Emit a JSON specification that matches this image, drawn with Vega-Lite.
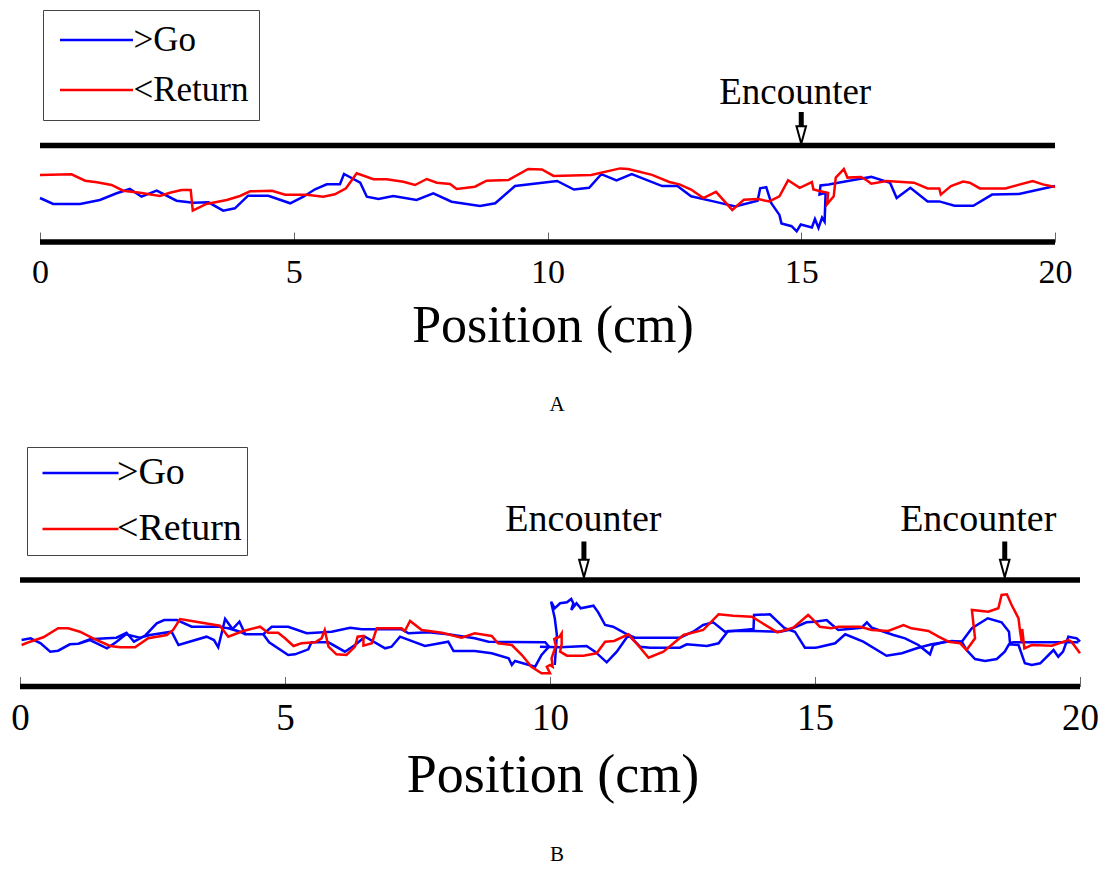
{
  "$schema": "https://vega.github.io/schema/vega-lite/v6.json",
  "width": 1105,
  "height": 875,
  "autosize": {"type": "none"},
  "padding": 0,
  "background": "white",
  "config": {"view": {"stroke": null}, "font": "Liberation Serif"},
  "datasets": {
    "A": [
      {"g":"Ab","s":">Go","i":0,"x":0,"y":44},{"g":"Ab","s":">Go","i":1,"x":0.26,"y":38},{"g":"Ab","s":">Go","i":2,"x":0.79,"y":38},{"g":"Ab","s":">Go","i":3,"x":1.18,"y":42},{"g":"Ab","s":">Go","i":4,"x":1.51,"y":48.7},{"g":"Ab","s":">Go","i":5,"x":1.77,"y":53},{"g":"Ab","s":">Go","i":6,"x":2.0,"y":45.3},{"g":"Ab","s":">Go","i":7,"x":2.3,"y":51.3},{"g":"Ab","s":">Go","i":8,"x":2.69,"y":41.3},{"g":"Ab","s":">Go","i":9,"x":3.02,"y":39.3},{"g":"Ab","s":">Go","i":10,"x":3.32,"y":39.7},{"g":"Ab","s":">Go","i":11,"x":3.61,"y":31.3},{"g":"Ab","s":">Go","i":12,"x":3.84,"y":33.7},{"g":"Ab","s":">Go","i":13,"x":4.1,"y":46.3},{"g":"Ab","s":">Go","i":14,"x":4.5,"y":46.3},{"g":"Ab","s":">Go","i":15,"x":4.93,"y":38.7},{"g":"Ab","s":">Go","i":16,"x":5.19,"y":45.3},{"g":"Ab","s":">Go","i":17,"x":5.42,"y":52.7},{"g":"Ab","s":">Go","i":18,"x":5.65,"y":57.7},{"g":"Ab","s":">Go","i":19,"x":5.91,"y":57.7},{"g":"Ab","s":">Go","i":20,"x":5.99,"y":68},{"g":"Ab","s":">Go","i":21,"x":6.31,"y":59.3},{"g":"Ab","s":">Go","i":22,"x":6.44,"y":45.3},{"g":"Ab","s":">Go","i":23,"x":6.67,"y":43},{"g":"Ab","s":">Go","i":24,"x":6.96,"y":46},{"g":"Ab","s":">Go","i":25,"x":7.42,"y":42},{"g":"Ab","s":">Go","i":26,"x":7.75,"y":48.7},{"g":"Ab","s":">Go","i":27,"x":8.11,"y":40.3},{"g":"Ab","s":">Go","i":28,"x":8.67,"y":36},{"g":"Ab","s":">Go","i":29,"x":8.97,"y":38.7},{"g":"Ab","s":">Go","i":30,"x":9.36,"y":56},{"g":"Ab","s":">Go","i":31,"x":10.19,"y":61},{"g":"Ab","s":">Go","i":32,"x":10.52,"y":52.5},{"g":"Ab","s":">Go","i":33,"x":10.82,"y":54.2},{"g":"Ab","s":">Go","i":34,"x":11.06,"y":67.8},{"g":"Ab","s":">Go","i":35,"x":11.36,"y":61.7},{"g":"Ab","s":">Go","i":36,"x":11.66,"y":67.8},{"g":"Ab","s":">Go","i":37,"x":12.26,"y":55.9},{"g":"Ab","s":">Go","i":38,"x":12.56,"y":55.9},{"g":"Ab","s":">Go","i":39,"x":12.83,"y":45.7},{"g":"Ab","s":">Go","i":40,"x":13.27,"y":40.6},{"g":"Ab","s":">Go","i":41,"x":13.7,"y":35.5},{"g":"Ab","s":">Go","i":42,"x":14.14,"y":41.3},{"g":"Ab","s":">Go","i":43,"x":14.19,"y":53.6},{"g":"Ab","s":">Go","i":44,"x":14.31,"y":54.9},{"g":"Ab","s":">Go","i":45,"x":14.41,"y":38.9},{"g":"Ab","s":">Go","i":46,"x":14.57,"y":27.1},{"g":"Ab","s":">Go","i":47,"x":14.61,"y":18.6},{"g":"Ab","s":">Go","i":48,"x":14.81,"y":15.8},{"g":"Ab","s":">Go","i":49,"x":14.91,"y":10.7},{"g":"Ab","s":">Go","i":50,"x":14.99,"y":17.5},{"g":"Ab","s":">Go","i":51,"x":15.21,"y":14.5},{"g":"Ab","s":">Go","i":52,"x":15.27,"y":23},{"g":"Ab","s":">Go","i":53,"x":15.34,"y":14.1},{"g":"Ab","s":">Go","i":54,"x":15.41,"y":24.3},{"g":"Ab","s":">Go","i":55,"x":15.46,"y":20.3},{"g":"Ab","s":">Go","i":56,"x":15.48,"y":49.1},{"g":"Ab","s":">Go","i":57,"x":15.36,"y":47.4},{"g":"Ab","s":">Go","i":58,"x":15.38,"y":56.6},{"g":"Ab","s":">Go","i":59,"x":15.54,"y":57.6},{"g":"Ab","s":">Go","i":60,"x":16.11,"y":62.7},{"g":"Ab","s":">Go","i":61,"x":16.38,"y":65.1},{"g":"Ab","s":">Go","i":62,"x":16.75,"y":59.3},{"g":"Ab","s":">Go","i":63,"x":16.88,"y":44},{"g":"Ab","s":">Go","i":64,"x":17.15,"y":54.2},{"g":"Ab","s":">Go","i":65,"x":17.49,"y":40.6},{"g":"Ab","s":">Go","i":66,"x":17.72,"y":40.6},{"g":"Ab","s":">Go","i":67,"x":18.02,"y":36.2},{"g":"Ab","s":">Go","i":68,"x":18.39,"y":36.2},{"g":"Ab","s":">Go","i":69,"x":18.76,"y":47.4},{"g":"Ab","s":">Go","i":70,"x":19.29,"y":48.1},{"g":"Ab","s":">Go","i":71,"x":20,"y":56},
      {"g":"Ar","s":"<Return","i":0,"x":0,"y":67},{"g":"Ar","s":"<Return","i":1,"x":0.62,"y":67.7},{"g":"Ar","s":"<Return","i":2,"x":0.89,"y":61.3},{"g":"Ar","s":"<Return","i":3,"x":1.12,"y":59.7},{"g":"Ar","s":"<Return","i":4,"x":1.41,"y":57},{"g":"Ar","s":"<Return","i":5,"x":1.64,"y":51.3},{"g":"Ar","s":"<Return","i":6,"x":1.97,"y":49.3},{"g":"Ar","s":"<Return","i":7,"x":2.36,"y":46},{"g":"Ar","s":"<Return","i":8,"x":2.56,"y":49.3},{"g":"Ar","s":"<Return","i":9,"x":2.79,"y":52},{"g":"Ar","s":"<Return","i":10,"x":2.97,"y":52},{"g":"Ar","s":"<Return","i":11,"x":3.01,"y":31.3},{"g":"Ar","s":"<Return","i":12,"x":3.28,"y":38},{"g":"Ar","s":"<Return","i":13,"x":3.68,"y":42},{"g":"Ar","s":"<Return","i":14,"x":3.94,"y":46},{"g":"Ar","s":"<Return","i":15,"x":4.14,"y":50.7},{"g":"Ar","s":"<Return","i":16,"x":4.57,"y":51.3},{"g":"Ar","s":"<Return","i":17,"x":4.83,"y":47.3},{"g":"Ar","s":"<Return","i":18,"x":5.26,"y":47.3},{"g":"Ar","s":"<Return","i":19,"x":5.58,"y":45.3},{"g":"Ar","s":"<Return","i":20,"x":5.81,"y":47.7},{"g":"Ar","s":"<Return","i":21,"x":6.03,"y":53.7},{"g":"Ar","s":"<Return","i":22,"x":6.24,"y":68.7},{"g":"Ar","s":"<Return","i":23,"x":6.57,"y":62.7},{"g":"Ar","s":"<Return","i":24,"x":6.83,"y":62.7},{"g":"Ar","s":"<Return","i":25,"x":7.16,"y":60.3},{"g":"Ar","s":"<Return","i":26,"x":7.39,"y":57},{"g":"Ar","s":"<Return","i":27,"x":7.62,"y":63},{"g":"Ar","s":"<Return","i":28,"x":7.82,"y":59.3},{"g":"Ar","s":"<Return","i":29,"x":8.08,"y":58},{"g":"Ar","s":"<Return","i":30,"x":8.21,"y":53},{"g":"Ar","s":"<Return","i":31,"x":8.57,"y":55.3},{"g":"Ar","s":"<Return","i":32,"x":8.8,"y":61.3},{"g":"Ar","s":"<Return","i":33,"x":9.23,"y":62},{"g":"Ar","s":"<Return","i":34,"x":9.62,"y":73},{"g":"Ar","s":"<Return","i":35,"x":9.89,"y":72.5},{"g":"Ar","s":"<Return","i":36,"x":10.12,"y":66.1},{"g":"Ar","s":"<Return","i":37,"x":10.86,"y":67.1},{"g":"Ar","s":"<Return","i":38,"x":11.43,"y":73.6},{"g":"Ar","s":"<Return","i":39,"x":11.59,"y":72.9},{"g":"Ar","s":"<Return","i":40,"x":12.06,"y":67.1},{"g":"Ar","s":"<Return","i":41,"x":12.4,"y":60},{"g":"Ar","s":"<Return","i":42,"x":12.6,"y":57.6},{"g":"Ar","s":"<Return","i":43,"x":12.83,"y":52.5},{"g":"Ar","s":"<Return","i":44,"x":13.07,"y":44},{"g":"Ar","s":"<Return","i":45,"x":13.32,"y":50.2},{"g":"Ar","s":"<Return","i":46,"x":13.64,"y":32.1},{"g":"Ar","s":"<Return","i":47,"x":13.87,"y":42.3},{"g":"Ar","s":"<Return","i":48,"x":14.14,"y":43},{"g":"Ar","s":"<Return","i":49,"x":14.37,"y":40.6},{"g":"Ar","s":"<Return","i":50,"x":14.57,"y":45.7},{"g":"Ar","s":"<Return","i":51,"x":14.74,"y":61.7},{"g":"Ar","s":"<Return","i":52,"x":14.97,"y":54.2},{"g":"Ar","s":"<Return","i":53,"x":15.21,"y":60},{"g":"Ar","s":"<Return","i":54,"x":15.24,"y":52.5},{"g":"Ar","s":"<Return","i":55,"x":15.38,"y":50.8},{"g":"Ar","s":"<Return","i":56,"x":15.53,"y":49.1},{"g":"Ar","s":"<Return","i":57,"x":15.51,"y":37.9},{"g":"Ar","s":"<Return","i":58,"x":15.64,"y":45.7},{"g":"Ar","s":"<Return","i":59,"x":15.68,"y":64.4},{"g":"Ar","s":"<Return","i":60,"x":15.84,"y":72.9},{"g":"Ar","s":"<Return","i":61,"x":15.91,"y":64.4},{"g":"Ar","s":"<Return","i":62,"x":16.18,"y":65.1},{"g":"Ar","s":"<Return","i":63,"x":16.31,"y":61},{"g":"Ar","s":"<Return","i":64,"x":16.38,"y":58.3},{"g":"Ar","s":"<Return","i":65,"x":16.68,"y":61},{"g":"Ar","s":"<Return","i":66,"x":17.22,"y":59.3},{"g":"Ar","s":"<Return","i":67,"x":17.49,"y":53.6},{"g":"Ar","s":"<Return","i":68,"x":17.72,"y":53.6},{"g":"Ar","s":"<Return","i":69,"x":17.75,"y":47.4},{"g":"Ar","s":"<Return","i":70,"x":17.95,"y":55.9},{"g":"Ar","s":"<Return","i":71,"x":18.19,"y":60.4},{"g":"Ar","s":"<Return","i":72,"x":18.32,"y":59.3},{"g":"Ar","s":"<Return","i":73,"x":18.52,"y":53.6},{"g":"Ar","s":"<Return","i":74,"x":19.02,"y":53.6},{"g":"Ar","s":"<Return","i":75,"x":19.56,"y":61},{"g":"Ar","s":"<Return","i":76,"x":19.76,"y":57.6},{"g":"Ar","s":"<Return","i":77,"x":20,"y":55}
    ],
    "B": [
      {"g":"Bb1","s":">Go","i":0,"x":0.03,"y":46.5},{"g":"Bb1","s":">Go","i":1,"x":0.2,"y":48.2},{"g":"Bb1","s":">Go","i":2,"x":0.39,"y":43.2},{"g":"Bb1","s":">Go","i":3,"x":0.57,"y":34.8},{"g":"Bb1","s":">Go","i":4,"x":0.72,"y":35.8},{"g":"Bb1","s":">Go","i":5,"x":0.94,"y":42.2},{"g":"Bb1","s":">Go","i":6,"x":1.1,"y":42.8},{"g":"Bb1","s":">Go","i":7,"x":1.32,"y":47.2},{"g":"Bb1","s":">Go","i":8,"x":1.64,"y":48.2},{"g":"Bb1","s":">Go","i":9,"x":1.82,"y":48.8},{"g":"Bb1","s":">Go","i":10,"x":2.01,"y":53.8},{"g":"Bb1","s":">Go","i":11,"x":2.15,"y":44.8},{"g":"Bb1","s":">Go","i":12,"x":2.36,"y":50.8},{"g":"Bb1","s":">Go","i":13,"x":2.58,"y":63.2},{"g":"Bb1","s":">Go","i":14,"x":2.72,"y":66.5},{"g":"Bb1","s":">Go","i":15,"x":2.96,"y":66.5},{"g":"Bb1","s":">Go","i":16,"x":3.24,"y":59.8},{"g":"Bb1","s":">Go","i":17,"x":3.77,"y":59.8},{"g":"Bb1","s":">Go","i":18,"x":3.93,"y":58.2},{"g":"Bb1","s":">Go","i":19,"x":4.15,"y":54.8},{"g":"Bb1","s":">Go","i":20,"x":4.25,"y":52.2},{"g":"Bb1","s":">Go","i":21,"x":4.59,"y":52.2},{"g":"Bb1","s":">Go","i":22,"x":4.75,"y":59.8},{"g":"Bb1","s":">Go","i":23,"x":5.06,"y":59.8},{"g":"Bb1","s":">Go","i":24,"x":5.41,"y":53.2},{"g":"Bb1","s":">Go","i":25,"x":5.88,"y":54.8},{"g":"Bb1","s":">Go","i":26,"x":6.23,"y":58.8},{"g":"Bb1","s":">Go","i":27,"x":6.45,"y":57.2},{"g":"Bb1","s":">Go","i":28,"x":7.2,"y":57.2},{"g":"Bb1","s":">Go","i":29,"x":7.33,"y":53.2},{"g":"Bb1","s":">Go","i":30,"x":7.7,"y":54.2},{"g":"Bb1","s":">Go","i":31,"x":8.08,"y":52.2},{"g":"Bb1","s":">Go","i":32,"x":8.58,"y":48.2},{"g":"Bb1","s":">Go","i":33,"x":8.84,"y":44.8},{"g":"Bb1","s":">Go","i":34,"x":9.91,"y":44.2},{"g":"Bb1","s":">Go","i":35,"x":9.98,"y":39.8},{"g":"Bb1","s":">Go","i":36,"x":9.84,"y":31.5},{"g":"Bb1","s":">Go","i":37,"x":9.72,"y":19.8},{"g":"Bb1","s":">Go","i":38,"x":9.34,"y":25.5},{"g":"Bb1","s":">Go","i":39,"x":9.28,"y":21.5},{"g":"Bb1","s":">Go","i":40,"x":9.22,"y":28.2},{"g":"Bb1","s":">Go","i":41,"x":8.9,"y":33.2},{"g":"Bb1","s":">Go","i":42,"x":8.58,"y":35.5},{"g":"Bb1","s":">Go","i":43,"x":8.18,"y":35.5},{"g":"Bb1","s":">Go","i":44,"x":8.08,"y":44.8},{"g":"Bb1","s":">Go","i":45,"x":7.64,"y":40.5},{"g":"Bb1","s":">Go","i":46,"x":7.17,"y":49.8},{"g":"Bb1","s":">Go","i":47,"x":7.01,"y":39.8},{"g":"Bb1","s":">Go","i":48,"x":6.89,"y":38.2},{"g":"Bb1","s":">Go","i":49,"x":6.51,"y":49.8},{"g":"Bb1","s":">Go","i":50,"x":6.32,"y":41.5},{"g":"Bb1","s":">Go","i":51,"x":6.13,"y":34.8},{"g":"Bb1","s":">Go","i":52,"x":5.82,"y":44.2},{"g":"Bb1","s":">Go","i":53,"x":5.5,"y":44.2},{"g":"Bb1","s":">Go","i":54,"x":5.44,"y":37.2},{"g":"Bb1","s":">Go","i":55,"x":5.19,"y":32.2},{"g":"Bb1","s":">Go","i":56,"x":5.06,"y":31.5},{"g":"Bb1","s":">Go","i":57,"x":4.7,"y":44.2},{"g":"Bb1","s":">Go","i":58,"x":4.59,"y":52.2},{"g":"Bb1","s":">Go","i":59,"x":4.25,"y":52.2},{"g":"Bb1","s":">Go","i":60,"x":4.14,"y":64.8},{"g":"Bb1","s":">Go","i":61,"x":4.01,"y":57.5},{"g":"Bb1","s":">Go","i":62,"x":3.87,"y":67.5},{"g":"Bb1","s":">Go","i":63,"x":3.74,"y":39.2},{"g":"Bb1","s":">Go","i":64,"x":3.66,"y":46.5},{"g":"Bb1","s":">Go","i":65,"x":3.52,"y":49.8},{"g":"Bb1","s":">Go","i":66,"x":2.99,"y":41.5},{"g":"Bb1","s":">Go","i":67,"x":2.86,"y":54.8},{"g":"Bb1","s":">Go","i":68,"x":2.45,"y":51.5},{"g":"Bb1","s":">Go","i":69,"x":2.26,"y":48.8},{"g":"Bb1","s":">Go","i":70,"x":2.0,"y":52.2},{"g":"Bb1","s":">Go","i":71,"x":1.81,"y":44.2},{"g":"Bb1","s":">Go","i":72,"x":1.64,"y":38.2},{"g":"Bb1","s":">Go","i":73,"x":1.45,"y":43.2},{"g":"Bb1","s":">Go","i":74,"x":1.32,"y":46.5},{"g":"Bb1","s":">Go","i":75,"x":1.1,"y":42.8},
      {"g":"Bb2","s":">Go","i":0,"x":9.81,"y":39.8},{"g":"Bb2","s":">Go","i":1,"x":10.19,"y":39.2},{"g":"Bb2","s":">Go","i":2,"x":10.69,"y":40.5},{"g":"Bb2","s":">Go","i":3,"x":10.85,"y":34.8},{"g":"Bb2","s":">Go","i":4,"x":11.07,"y":24.2},{"g":"Bb2","s":">Go","i":5,"x":11.26,"y":34.8},{"g":"Bb2","s":">Go","i":6,"x":11.48,"y":51.5},{"g":"Bb2","s":">Go","i":7,"x":11.7,"y":39.8},{"g":"Bb2","s":">Go","i":8,"x":11.89,"y":38.8},{"g":"Bb2","s":">Go","i":9,"x":12.45,"y":38.8},{"g":"Bb2","s":">Go","i":10,"x":12.58,"y":42.2},{"g":"Bb2","s":">Go","i":11,"x":12.96,"y":40.5},{"g":"Bb2","s":">Go","i":12,"x":13.18,"y":43.2},{"g":"Bb2","s":">Go","i":13,"x":13.36,"y":55.5},{"g":"Bb2","s":">Go","i":14,"x":13.84,"y":55.5},{"g":"Bb2","s":">Go","i":15,"x":14.34,"y":54.8},{"g":"Bb2","s":">Go","i":16,"x":14.5,"y":56.5},{"g":"Bb2","s":">Go","i":17,"x":14.84,"y":64.2},{"g":"Bb2","s":">Go","i":18,"x":15.0,"y":64.8},{"g":"Bb2","s":">Go","i":19,"x":15.22,"y":66.5},{"g":"Bb2","s":">Go","i":20,"x":15.31,"y":62.2},{"g":"Bb2","s":">Go","i":21,"x":15.44,"y":56.5},{"g":"Bb2","s":">Go","i":22,"x":15.88,"y":58.8},{"g":"Bb2","s":">Go","i":23,"x":15.98,"y":64.2},{"g":"Bb2","s":">Go","i":24,"x":16.07,"y":58.8},{"g":"Bb2","s":">Go","i":25,"x":16.48,"y":51.5},{"g":"Bb2","s":">Go","i":26,"x":16.7,"y":48.2},{"g":"Bb2","s":">Go","i":27,"x":16.95,"y":41.5},{"g":"Bb2","s":">Go","i":28,"x":17.17,"y":32.2},{"g":"Bb2","s":">Go","i":29,"x":17.23,"y":41.5},{"g":"Bb2","s":">Go","i":30,"x":17.45,"y":44.8},{"g":"Bb2","s":">Go","i":31,"x":17.77,"y":44.8},{"g":"Bb2","s":">Go","i":32,"x":17.96,"y":58.2},{"g":"Bb2","s":">Go","i":33,"x":18.26,"y":68.2},{"g":"Bb2","s":">Go","i":34,"x":18.52,"y":64.2},{"g":"Bb2","s":">Go","i":35,"x":18.66,"y":54.8},{"g":"Bb2","s":">Go","i":36,"x":18.68,"y":43.2},{"g":"Bb2","s":">Go","i":37,"x":18.74,"y":44.2},{"g":"Bb2","s":">Go","i":38,"x":19.97,"y":44.2},
      {"g":"Bb3","s":">Go","i":0,"x":10.09,"y":21.5},{"g":"Bb3","s":">Go","i":1,"x":10.13,"y":51.5},{"g":"Bb3","s":">Go","i":2,"x":10.09,"y":68.2},{"g":"Bb3","s":">Go","i":3,"x":10.02,"y":84.8},{"g":"Bb3","s":">Go","i":4,"x":10.09,"y":78.2},{"g":"Bb3","s":">Go","i":5,"x":10.19,"y":83.2},{"g":"Bb3","s":">Go","i":6,"x":10.32,"y":84.2},{"g":"Bb3","s":">Go","i":7,"x":10.4,"y":87.5},{"g":"Bb3","s":">Go","i":8,"x":10.44,"y":83.2},{"g":"Bb3","s":">Go","i":9,"x":10.4,"y":76.5},{"g":"Bb3","s":">Go","i":10,"x":10.5,"y":83.2},{"g":"Bb3","s":">Go","i":11,"x":10.58,"y":78.2},{"g":"Bb3","s":">Go","i":12,"x":10.82,"y":80.8},{"g":"Bb3","s":">Go","i":13,"x":10.91,"y":74.2},{"g":"Bb3","s":">Go","i":14,"x":11.04,"y":61.5},{"g":"Bb3","s":">Go","i":15,"x":11.19,"y":59.8},{"g":"Bb3","s":">Go","i":16,"x":11.42,"y":53.2},{"g":"Bb3","s":">Go","i":17,"x":11.6,"y":48.8},{"g":"Bb3","s":">Go","i":18,"x":12.45,"y":48.8},{"g":"Bb3","s":">Go","i":19,"x":12.7,"y":54.8},{"g":"Bb3","s":">Go","i":20,"x":12.89,"y":61.5},{"g":"Bb3","s":">Go","i":21,"x":13.08,"y":64.2},{"g":"Bb3","s":">Go","i":22,"x":13.3,"y":54.8},{"g":"Bb3","s":">Go","i":23,"x":13.84,"y":57.5},{"g":"Bb3","s":">Go","i":24,"x":13.85,"y":71.5},{"g":"Bb3","s":">Go","i":25,"x":14.15,"y":72.2},{"g":"Bb3","s":">Go","i":26,"x":14.43,"y":58.2},{"g":"Bb3","s":">Go","i":27,"x":14.62,"y":54.8},{"g":"Bb3","s":">Go","i":28,"x":14.81,"y":38.8},{"g":"Bb3","s":">Go","i":29,"x":15.0,"y":38.8},{"g":"Bb3","s":">Go","i":30,"x":15.06,"y":39.2},{"g":"Bb3","s":">Go","i":31,"x":15.38,"y":43.2},{"g":"Bb3","s":">Go","i":32,"x":15.57,"y":52.2},{"g":"Bb3","s":">Go","i":33,"x":15.91,"y":44.8},{"g":"Bb3","s":">Go","i":34,"x":16.35,"y":30.8},{"g":"Bb3","s":">Go","i":35,"x":16.64,"y":33.2},{"g":"Bb3","s":">Go","i":36,"x":16.92,"y":38.2},{"g":"Bb3","s":">Go","i":37,"x":17.2,"y":42.2},{"g":"Bb3","s":">Go","i":38,"x":17.58,"y":45.5},{"g":"Bb3","s":">Go","i":39,"x":17.77,"y":44.8},{"g":"Bb3","s":">Go","i":40,"x":17.86,"y":36.5},{"g":"Bb3","s":">Go","i":41,"x":18.02,"y":27.5},{"g":"Bb3","s":">Go","i":42,"x":18.21,"y":25.5},{"g":"Bb3","s":">Go","i":43,"x":18.43,"y":27.5},{"g":"Bb3","s":">Go","i":44,"x":18.58,"y":34.8},{"g":"Bb3","s":">Go","i":45,"x":18.66,"y":42.2},{"g":"Bb3","s":">Go","i":46,"x":18.84,"y":41.5},{"g":"Bb3","s":">Go","i":47,"x":18.96,"y":23.2},{"g":"Bb3","s":">Go","i":48,"x":19.09,"y":21.5},{"g":"Bb3","s":">Go","i":49,"x":19.25,"y":23.2},{"g":"Bb3","s":">Go","i":50,"x":19.5,"y":36.5},{"g":"Bb3","s":">Go","i":51,"x":19.59,"y":29.8},{"g":"Bb3","s":">Go","i":52,"x":19.68,"y":34.8},{"g":"Bb3","s":">Go","i":53,"x":19.78,"y":49.8},{"g":"Bb3","s":">Go","i":54,"x":19.94,"y":48.2},{"g":"Bb3","s":">Go","i":55,"x":20.0,"y":44.8},
      {"g":"Br","s":"<Return","i":0,"x":0.03,"y":41.5},{"g":"Br","s":"<Return","i":1,"x":0.19,"y":44.8},{"g":"Br","s":"<Return","i":2,"x":0.44,"y":49.2},{"g":"Br","s":"<Return","i":3,"x":0.72,"y":58.2},{"g":"Br","s":"<Return","i":4,"x":0.91,"y":58.2},{"g":"Br","s":"<Return","i":5,"x":1.13,"y":54.8},{"g":"Br","s":"<Return","i":6,"x":1.38,"y":48.2},{"g":"Br","s":"<Return","i":7,"x":1.7,"y":40.5},{"g":"Br","s":"<Return","i":8,"x":1.89,"y":39.2},{"g":"Br","s":"<Return","i":9,"x":2.17,"y":39.2},{"g":"Br","s":"<Return","i":10,"x":2.42,"y":48.2},{"g":"Br","s":"<Return","i":11,"x":2.77,"y":51.5},{"g":"Br","s":"<Return","i":12,"x":2.89,"y":56.5},{"g":"Br","s":"<Return","i":13,"x":3.02,"y":67.5},{"g":"Br","s":"<Return","i":14,"x":3.21,"y":65.8},{"g":"Br","s":"<Return","i":15,"x":3.77,"y":60.8},{"g":"Br","s":"<Return","i":16,"x":3.93,"y":49.8},{"g":"Br","s":"<Return","i":17,"x":4.21,"y":55.5},{"g":"Br","s":"<Return","i":18,"x":4.53,"y":59.8},{"g":"Br","s":"<Return","i":19,"x":4.68,"y":53.8},{"g":"Br","s":"<Return","i":20,"x":4.87,"y":53.8},{"g":"Br","s":"<Return","i":21,"x":5.0,"y":48.2},{"g":"Br","s":"<Return","i":22,"x":5.16,"y":40.5},{"g":"Br","s":"<Return","i":23,"x":5.31,"y":43.2},{"g":"Br","s":"<Return","i":24,"x":5.57,"y":44.2},{"g":"Br","s":"<Return","i":25,"x":5.69,"y":48.2},{"g":"Br","s":"<Return","i":26,"x":5.75,"y":56.5},{"g":"Br","s":"<Return","i":27,"x":5.82,"y":39.8},{"g":"Br","s":"<Return","i":28,"x":5.97,"y":32.2},{"g":"Br","s":"<Return","i":29,"x":6.16,"y":31.5},{"g":"Br","s":"<Return","i":30,"x":6.32,"y":39.8},{"g":"Br","s":"<Return","i":31,"x":6.37,"y":49.8},{"g":"Br","s":"<Return","i":32,"x":6.48,"y":50.5},{"g":"Br","s":"<Return","i":33,"x":6.48,"y":40.8},{"g":"Br","s":"<Return","i":34,"x":6.64,"y":43.2},{"g":"Br","s":"<Return","i":35,"x":6.73,"y":58.2},{"g":"Br","s":"<Return","i":36,"x":7.2,"y":58.2},{"g":"Br","s":"<Return","i":37,"x":7.26,"y":55.5},{"g":"Br","s":"<Return","i":38,"x":7.36,"y":65.5},{"g":"Br","s":"<Return","i":39,"x":7.58,"y":56.5},{"g":"Br","s":"<Return","i":40,"x":7.96,"y":53.8},{"g":"Br","s":"<Return","i":41,"x":8.33,"y":48.8},{"g":"Br","s":"<Return","i":42,"x":8.58,"y":53.2},{"g":"Br","s":"<Return","i":43,"x":8.9,"y":50.5},{"g":"Br","s":"<Return","i":44,"x":9.02,"y":43.2},{"g":"Br","s":"<Return","i":45,"x":9.28,"y":41.5},{"g":"Br","s":"<Return","i":46,"x":9.47,"y":31.5},{"g":"Br","s":"<Return","i":47,"x":9.65,"y":19.8},{"g":"Br","s":"<Return","i":48,"x":9.84,"y":13.2},{"g":"Br","s":"<Return","i":49,"x":10.0,"y":13.2},{"g":"Br","s":"<Return","i":50,"x":9.94,"y":19.8},{"g":"Br","s":"<Return","i":51,"x":10.0,"y":21.5},{"g":"Br","s":"<Return","i":52,"x":10.05,"y":19.8},{"g":"Br","s":"<Return","i":53,"x":10.03,"y":28.2},{"g":"Br","s":"<Return","i":54,"x":10.06,"y":33.2},{"g":"Br","s":"<Return","i":55,"x":10.11,"y":40.5},{"g":"Br","s":"<Return","i":56,"x":10.08,"y":47.5},{"g":"Br","s":"<Return","i":57,"x":10.18,"y":49.8},{"g":"Br","s":"<Return","i":58,"x":10.22,"y":53.2},{"g":"Br","s":"<Return","i":59,"x":10.22,"y":42.2},{"g":"Br","s":"<Return","i":60,"x":10.19,"y":34.8},{"g":"Br","s":"<Return","i":61,"x":10.32,"y":30.8},{"g":"Br","s":"<Return","i":62,"x":10.63,"y":30.8},{"g":"Br","s":"<Return","i":63,"x":10.88,"y":33.2},{"g":"Br","s":"<Return","i":64,"x":11.04,"y":44.8},{"g":"Br","s":"<Return","i":65,"x":11.21,"y":45.5},{"g":"Br","s":"<Return","i":66,"x":11.48,"y":52.2},{"g":"Br","s":"<Return","i":67,"x":11.67,"y":40.8},{"g":"Br","s":"<Return","i":68,"x":11.86,"y":28.8},{"g":"Br","s":"<Return","i":69,"x":12.14,"y":34.8},{"g":"Br","s":"<Return","i":70,"x":12.52,"y":51.5},{"g":"Br","s":"<Return","i":71,"x":12.89,"y":56.5},{"g":"Br","s":"<Return","i":72,"x":13.18,"y":72.2},{"g":"Br","s":"<Return","i":73,"x":13.46,"y":70.8},{"g":"Br","s":"<Return","i":74,"x":13.81,"y":69.8},{"g":"Br","s":"<Return","i":75,"x":14.01,"y":63.2},{"g":"Br","s":"<Return","i":76,"x":14.29,"y":54.2},{"g":"Br","s":"<Return","i":77,"x":14.59,"y":58.8},{"g":"Br","s":"<Return","i":78,"x":14.87,"y":71.5},{"g":"Br","s":"<Return","i":79,"x":14.94,"y":68.2},{"g":"Br","s":"<Return","i":80,"x":15.09,"y":59.8},{"g":"Br","s":"<Return","i":81,"x":15.31,"y":58.2},{"g":"Br","s":"<Return","i":82,"x":15.44,"y":59.8},{"g":"Br","s":"<Return","i":83,"x":15.85,"y":59.8},{"g":"Br","s":"<Return","i":84,"x":16.07,"y":56.5},{"g":"Br","s":"<Return","i":85,"x":16.38,"y":55.5},{"g":"Br","s":"<Return","i":86,"x":16.67,"y":61.5},{"g":"Br","s":"<Return","i":87,"x":16.82,"y":58.2},{"g":"Br","s":"<Return","i":88,"x":17.14,"y":55.5},{"g":"Br","s":"<Return","i":89,"x":17.33,"y":49.8},{"g":"Br","s":"<Return","i":90,"x":17.52,"y":44.8},{"g":"Br","s":"<Return","i":91,"x":17.74,"y":43.2},{"g":"Br","s":"<Return","i":92,"x":17.86,"y":36.5},{"g":"Br","s":"<Return","i":93,"x":18.02,"y":48.2},{"g":"Br","s":"<Return","i":94,"x":17.96,"y":76.5},{"g":"Br","s":"<Return","i":95,"x":18.27,"y":74.8},{"g":"Br","s":"<Return","i":96,"x":18.46,"y":78.2},{"g":"Br","s":"<Return","i":97,"x":18.52,"y":91.5},{"g":"Br","s":"<Return","i":98,"x":18.62,"y":92.2},{"g":"Br","s":"<Return","i":99,"x":18.71,"y":81.5},{"g":"Br","s":"<Return","i":100,"x":18.84,"y":68.2},{"g":"Br","s":"<Return","i":101,"x":18.87,"y":54.8},{"g":"Br","s":"<Return","i":102,"x":18.9,"y":44.8},{"g":"Br","s":"<Return","i":103,"x":18.91,"y":57.5},{"g":"Br","s":"<Return","i":104,"x":18.95,"y":38.2},{"g":"Br","s":"<Return","i":105,"x":19.09,"y":41.5},{"g":"Br","s":"<Return","i":106,"x":19.47,"y":40.8},{"g":"Br","s":"<Return","i":107,"x":19.78,"y":46.5},{"g":"Br","s":"<Return","i":108,"x":19.84,"y":44.8},{"g":"Br","s":"<Return","i":109,"x":20.0,"y":33.2}
    ]
  },
  "layer": [
    {
      "encoding": {
        "x": {"field": "x", "type": "quantitative",
          "scale": {"domain": [-0.7882, 20.9852], "nice": false, "zero": false},
          "axis": {"orient": "bottom", "offset": -633, "values": [0, 5, 10, 15, 20], "domain": false, "grid": false,
            "tickSize": -10, "tickColor": "#666", "tickWidth": 1, "labelPadding": 23, "labelFont": "Liberation Serif", "labelFontSize": 34, "labelColor": "black", "labelFlush": false, "labelAngle": 0,
            "title": "Position (cm)", "titleFont": "Liberation Serif", "titleFontSize": 52, "titleFontWeight": "normal", "titleColor": "black", "titlePadding": 11}},
        "y": {"field": "y", "type": "quantitative", "scale": {"domain": [-633, 242], "nice": false, "zero": false}, "axis": null}
      },
      "layer": [
        {
          "data": {"values": [{"x": 0, "x2": 20, "y": 0}, {"x": 0, "x2": 20, "y": 96.5}]},
          "mark": {"type": "rule", "color": "black", "strokeWidth": 5.5},
          "encoding": {"x2": {"field": "x2"}}
        },
        {
          "data": {"name": "A"},
          "transform": [{"filter": "datum.s === '>Go'"}],
          "mark": {"type": "line", "strokeWidth": 2.5},
          "encoding": {
            "color": {"field": "s", "type": "nominal", "scale": {"domain": [">Go", "<Return"], "range": ["#0000ff", "#ff0000"]},
              "legend": {"title": null, "orient": "none", "legendX": 43, "legendY": 10, "symbolType": "stroke", "symbolSize": 5329, "symbolStrokeWidth": 2.5,
                "labelFont": "Liberation Serif", "labelFontSize": 35, "labelColor": "black", "labelOffset": -1, "symbolOffset": 5.5, "padding": 10, "clipHeight": 40, "rowPadding": 10,
                "strokeColor": "#444", "fillColor": "white", "labelLimit": 0}},
            "detail": {"field": "g"},
            "order": {"field": "i"}
          }
        },
        {
          "data": {"name": "A"},
          "transform": [{"filter": "datum.s === '<Return'"}],
          "mark": {"type": "line", "strokeWidth": 2.5},
          "encoding": {
            "color": {"field": "s", "type": "nominal", "scale": {"domain": [">Go", "<Return"], "range": ["#0000ff", "#ff0000"]},
              "legend": {"title": null, "orient": "none", "legendX": 43, "legendY": 10, "symbolType": "stroke", "symbolSize": 5329, "symbolStrokeWidth": 2.5,
                "labelFont": "Liberation Serif", "labelFontSize": 35, "labelColor": "black", "labelOffset": -1, "symbolOffset": 5.5, "padding": 10, "clipHeight": 40, "rowPadding": 10,
                "strokeColor": "#444", "fillColor": "white", "labelLimit": 0}},
            "detail": {"field": "g"},
            "order": {"field": "i"}
          }
        },
        {
          "data": {"values": [{"x": 15, "tx": 14.88, "y": 138, "ys": 130, "ye": 116, "yh": 107, "t": "Encounter"}]},
          "mark": {"type": "text", "font": "Liberation Serif", "fontSize": 37, "baseline": "alphabetic", "align": "center", "color": "black"},
          "encoding": {"x": {"field": "tx", "type": "quantitative"}, "text": {"field": "t", "type": "nominal"}}
        },
        {
          "data": {"values": [{"x": 15, "tx": 14.88, "y": 138, "ys": 130, "ye": 116, "yh": 107, "t": "Encounter"}]},
          "mark": {"type": "rule", "color": "black", "strokeWidth": 5},
          "encoding": {"y": {"field": "ys", "type": "quantitative"}, "y2": {"field": "ye"}}
        },
        {
          "data": {"values": [{"x": 15, "tx": 14.88, "y": 138, "ys": 130, "ye": 116, "yh": 107, "t": "Encounter"}]},
          "mark": {"type": "point", "shape": "M-0.55,-1L0.55,-1L0,1Z", "size": 300, "filled": true, "fill": "white", "stroke": "black", "strokeWidth": 2, "opacity": 1},
          "encoding": {"y": {"field": "yh", "type": "quantitative"}}
        },
        {
          "data": {"values": [{"x": 10.19, "y": -163, "t": "A"}]},
          "mark": {"type": "text", "font": "Liberation Serif", "fontSize": 21, "baseline": "middle", "align": "center", "color": "black"},
          "encoding": {"text": {"field": "t", "type": "nominal"}}
        }
      ]
    },
    {
      "encoding": {
        "x": {"field": "x", "type": "quantitative",
          "scale": {"domain": [-0.3774, 20.4717], "nice": false, "zero": false},
          "axis": {"orient": "bottom", "offset": -188.5, "values": [0, 5, 10, 15, 20], "domain": false, "grid": false,
            "tickSize": -10, "tickColor": "#666", "tickWidth": 1, "labelPadding": 24, "labelFont": "Liberation Serif", "labelFontSize": 37, "labelColor": "black", "labelFlush": false, "labelAngle": 0,
            "title": "Position (cm)", "titleFont": "Liberation Serif", "titleFontSize": 54, "titleFontWeight": "normal", "titleColor": "black", "titlePadding": 12}},
        "y": {"field": "y", "type": "quantitative", "scale": {"domain": [-188.5, 686.5], "nice": false, "zero": false}, "axis": null}
      },
      "layer": [
        {
          "data": {"values": [{"x": 0, "x2": 20, "y": 0}, {"x": 0, "x2": 20, "y": 106.5}]},
          "mark": {"type": "rule", "color": "black", "strokeWidth": 5.5},
          "encoding": {"x2": {"field": "x2"}}
        },
        {
          "data": {"name": "B"},
          "transform": [{"filter": "datum.s === '>Go'"}],
          "mark": {"type": "line", "strokeWidth": 2.5},
          "encoding": {
            "color": {"field": "s", "type": "nominal", "scale": {"domain": [">Go", "<Return"], "range": ["#0000ff", "#ff0000"]},
              "legend": {"title": null, "orient": "none", "legendX": 27, "legendY": 447, "symbolType": "stroke", "symbolSize": 5776, "symbolStrokeWidth": 2.5,
                "labelFont": "Liberation Serif", "labelFontSize": 38, "labelColor": "black", "labelOffset": -3, "symbolOffset": 9, "padding": 5, "clipHeight": 42, "rowPadding": 14,
                "strokeColor": "#444", "fillColor": "white", "labelLimit": 0}},
            "detail": {"field": "g"},
            "order": {"field": "i"}
          }
        },
        {
          "data": {"name": "B"},
          "transform": [{"filter": "datum.s === '<Return'"}],
          "mark": {"type": "line", "strokeWidth": 2.5},
          "encoding": {
            "color": {"field": "s", "type": "nominal", "scale": {"domain": [">Go", "<Return"], "range": ["#0000ff", "#ff0000"]},
              "legend": {"title": null, "orient": "none", "legendX": 27, "legendY": 447, "symbolType": "stroke", "symbolSize": 5776, "symbolStrokeWidth": 2.5,
                "labelFont": "Liberation Serif", "labelFontSize": 38, "labelColor": "black", "labelOffset": -3, "symbolOffset": 9, "padding": 5, "clipHeight": 42, "rowPadding": 14,
                "strokeColor": "#444", "fillColor": "white", "labelLimit": 0}},
            "detail": {"field": "g"},
            "order": {"field": "i"}
          }
        },
        {
          "data": {"values": [{"x": 10.64, "tx": 10.63, "y": 155.5, "ys": 145, "ye": 127, "yh": 118, "t": "Encounter"}, {"x": 18.58, "tx": 18.08, "y": 155.5, "ys": 145, "ye": 127, "yh": 118, "t": "Encounter"}]},
          "mark": {"type": "text", "font": "Liberation Serif", "fontSize": 38, "baseline": "alphabetic", "align": "center", "color": "black"},
          "encoding": {"x": {"field": "tx", "type": "quantitative"}, "text": {"field": "t", "type": "nominal"}}
        },
        {
          "data": {"values": [{"x": 10.64, "tx": 10.63, "y": 155.5, "ys": 145, "ye": 127, "yh": 118, "t": "Encounter"}, {"x": 18.58, "tx": 18.08, "y": 155.5, "ys": 145, "ye": 127, "yh": 118, "t": "Encounter"}]},
          "mark": {"type": "rule", "color": "black", "strokeWidth": 5},
          "encoding": {"y": {"field": "ys", "type": "quantitative"}, "y2": {"field": "ye"}}
        },
        {
          "data": {"values": [{"x": 10.64, "tx": 10.63, "y": 155.5, "ys": 145, "ye": 127, "yh": 118, "t": "Encounter"}, {"x": 18.58, "tx": 18.08, "y": 155.5, "ys": 145, "ye": 127, "yh": 118, "t": "Encounter"}]},
          "mark": {"type": "point", "shape": "M-0.55,-1L0.55,-1L0,1Z", "size": 300, "filled": true, "fill": "white", "stroke": "black", "strokeWidth": 2, "opacity": 1},
          "encoding": {"y": {"field": "yh", "type": "quantitative"}}
        },
        {
          "data": {"values": [{"x": 10.13, "y": -168.5, "t": "B"}]},
          "mark": {"type": "text", "font": "Liberation Serif", "fontSize": 21, "baseline": "middle", "align": "center", "color": "black"},
          "encoding": {"text": {"field": "t", "type": "nominal"}}
        }
      ]
    }
  ],
  "resolve": {"scale": {"x": "independent", "y": "independent", "color": "independent"}, "axis": {"x": "independent"}, "legend": {"color": "independent"}}
}
